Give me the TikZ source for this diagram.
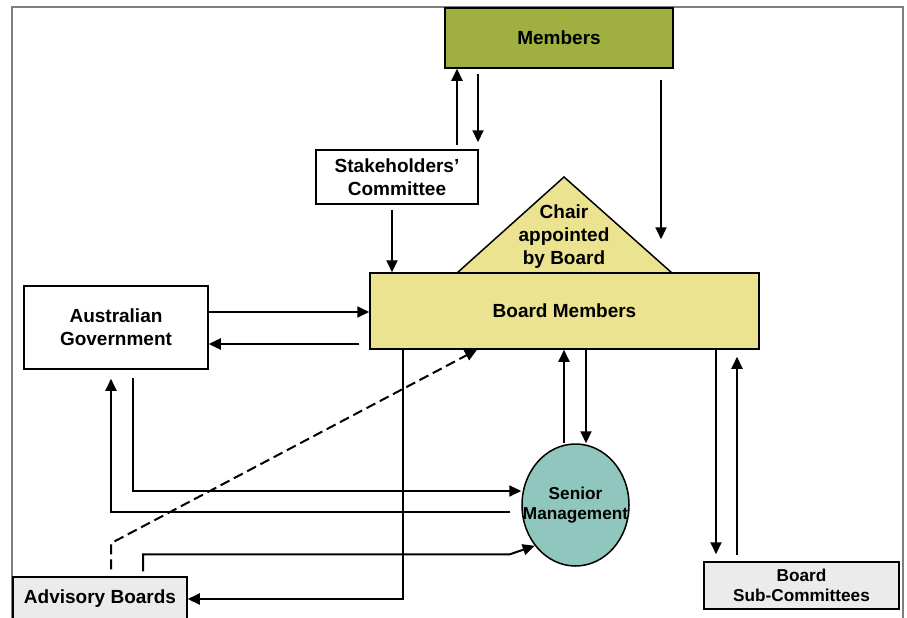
\documentclass[tikz,border=0pt]{standalone}
\usepackage{fontspec}
\setmainfont{Liberation Sans}
\usetikzlibrary{arrows.meta,shapes.geometric}
\definecolor{memgreen}{HTML}{A0B040}
\definecolor{boardyel}{HTML}{ECE391}
\definecolor{senteal}{HTML}{8FC6BD}
\definecolor{lightbox}{HTML}{EBEBEB}
\definecolor{framegray}{HTML}{7F7F7F}
\begin{document}
\begin{tikzpicture}[x=1pt,y=-1pt,
  box/.style={draw=black,line width=1.5pt,rectangle,inner sep=0pt,align=center,
    font=\fontsize{19}{23}\selectfont\bfseries},
  smallbox/.style={box,font=\fontsize{17.2}{20}\selectfont\bfseries},
  arr/.style={line width=2pt,-{Triangle[length=12pt,width=11pt]}},
  dasharr/.style={arr,dash pattern=on 10pt off 5pt}]
\useasboundingbox (0,0) rectangle (907,618);
\fill[white] (0,0) rectangle (907,618);
\draw[framegray,line width=2pt] (12,640) -- (12,7) -- (903,7) -- (903,640);

% triangle (chair)
\draw[line width=1.5pt,fill=boardyel,line join=miter] (457,273) -- (564,177) -- (672,273) -- cycle;
\node[align=center,font=\fontsize{19}{23}\selectfont\bfseries] (chair) at (564,237) {Chair\\appointed\\by Board};

\node[box,fill=memgreen,minimum width=228pt,minimum height=60pt] (mem) at (559,38) {Members};
\node[box,fill=white,minimum width=162pt,minimum height=54pt,text depth=0pt] (stk) at (397,177) {Stakeholders’\\Committee};
\node[box,fill=boardyel,minimum width=389pt,minimum height=76pt] (board) at (564.5,311) {Board Members};
\node[box,fill=white,minimum width=184pt,minimum height=83pt] (gov) at (116,327.5) {Australian\\Government};
\node[box,fill=lightbox,minimum width=174pt,minimum height=44pt] (adv) at (100,599) {Advisory Boards};
\node[smallbox,fill=lightbox,minimum width=195pt,minimum height=47pt] (sub) at (801.5,585.5) {Board\\Sub-Committees};
\node[draw=black,line width=1.5pt,ellipse,fill=senteal,minimum width=107pt,minimum height=122pt,inner sep=0pt,align=center,
  font=\fontsize{17.2}{20}\selectfont\bfseries] (sen) at (575.5,505) {\makebox[0pt][c]{Senior}\\\makebox[0pt][c]{Management}};

% connectors
\draw[arr] ([xshift=60pt,yshift=4pt]stk.north) -- ([xshift=-102pt]mem.south);
\draw[arr] ([xshift=-81pt,yshift=-5pt]mem.south) -- ([xshift=81pt,yshift=7pt]stk.north);
\draw[arr] ([xshift=102pt,yshift=-11pt]mem.south) -- ([xshift=96.5pt,yshift=33pt]board.north);
\draw[arr] ([xshift=-5pt,yshift=-5pt]stk.south) -- ([xshift=-172.5pt]board.north);
\draw[arr] ([yshift=15.5pt]gov.east) -- ([yshift=-1pt]board.west);
\draw[arr] ([xshift=-10pt,yshift=-33pt]board.west) -- ([yshift=-16.5pt]gov.east);
\draw[arr] ([xshift=17pt,yshift=-8pt]gov.south) |- ([yshift=14pt]sen.west);
\draw[arr] ([xshift=-11pt,yshift=-7pt]sen.west) -| ([xshift=-5pt,yshift=-9pt]gov.south);
\draw[arr] ([xshift=43pt,yshift=5pt]adv.north) |- ++(367,-17) -- (sen.225);
\draw[arr] ([xshift=-161.5pt]board.south) |- (adv.east);
\draw[dasharr] ([xshift=11pt,yshift=7pt]adv.north) -- ++(0,-26) -- ([xshift=-87.5pt]board.south);
\draw[arr] ([xshift=-11.5pt]sen.north) -- ([xshift=-0.5pt]board.south);
\draw[arr] ([xshift=21.5pt]board.south) -- ([xshift=10.5pt]sen.north);
\draw[arr] ([xshift=151.5pt]board.south) -- ([xshift=-85.5pt,yshift=7pt]sub.north);
\draw[arr] ([xshift=-64.5pt,yshift=6pt]sub.north) -- ([xshift=172.5pt,yshift=-7pt]board.south);
\end{tikzpicture}
\end{document}
